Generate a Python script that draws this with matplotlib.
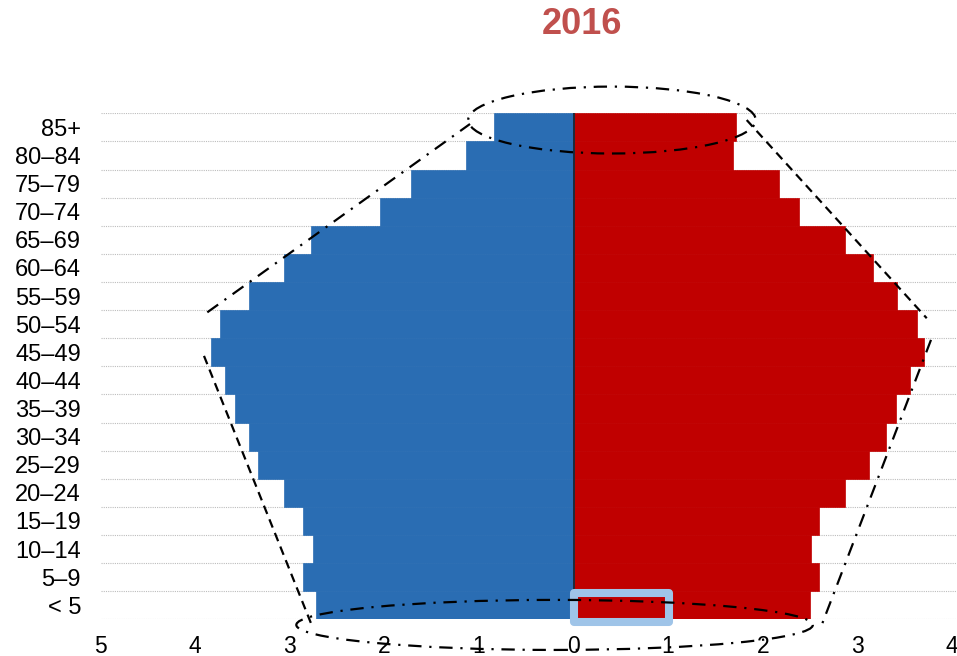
import matplotlib
matplotlib.use("Agg")
import matplotlib.pyplot as plt
from matplotlib.patches import Ellipse, Rectangle

plt.rcParams['font.family'] = ['Liberation Sans', 'DejaVu Sans']

# ---- data ----
age_groups = ["< 5", "5–9", "10–14", "15–19", "20–24", "25–29", "30–34", "35–39",
              "40–44", "45–49", "50–54", "55–59", "60–64", "65–69", "70–74",
              "75–79", "80–84", "85+"]
male = [2.72, 2.86, 2.75, 2.86, 3.06, 3.34, 3.43, 3.58, 3.68, 3.83, 3.74, 3.43,
        3.06, 2.78, 2.05, 1.72, 1.14, 0.84]
female = [2.50, 2.59, 2.51, 2.59, 2.87, 3.12, 3.30, 3.41, 3.56, 3.71, 3.63, 3.42,
          3.17, 2.87, 2.38, 2.17, 1.69, 1.72]
x_ticks = [-5, -4, -3, -2, -1, 0, 1, 2, 3, 4, 5]
x_tick_labels = ["5", "4", "3", "2", "1", "0", "1", "2", "3", "4", "5"]
title = "2016"

BLUE = "#2a6db3"
RED = "#c00000"

fig = plt.figure(figsize=(9.57, 6.56), dpi=100)
ax = fig.add_axes([100.5 / 957, 36.7 / 656, 946 / 957, 506 / 656])

ypos = list(range(len(age_groups)))
ax.barh(ypos, [-m for m in male], height=1.0, color=BLUE, edgecolor=BLUE, lw=0.5, zorder=2)
ax.barh(ypos, female, height=1.0, color=RED, edgecolor=RED, lw=0.5, zorder=2)

ax.set_xlim(-5, 5)
ax.set_ylim(-0.5, len(age_groups) - 0.5)

# gridlines at row boundaries
for b in [i - 0.5 for i in range(len(age_groups) + 1)]:
    ax.axhline(b, color="#bdbdbd", lw=0.8, ls=(0, (1, 1)), zorder=1)

# centre line
ax.plot([0, 0], [-0.5, len(age_groups) - 0.5], color="#1e2b3a", lw=1.4, zorder=3)

ax.set_yticks(ypos)
ax.set_yticklabels(age_groups, fontsize=17)
ax.set_xticks(x_ticks)
ax.set_xticklabels(x_tick_labels, fontsize=16.5)
ax.tick_params(axis="y", length=0, pad=14)
ax.tick_params(axis="x", length=0, pad=11)
for s in ax.spines.values():
    s.set_visible(False)

# ---- annotation shapes (data units) ----
dashdot = (0, (6, 3.5, 1, 3.5))
dashed = (0, (4, 2.6))
lw = 1.6

top_ell = Ellipse((0.407, 17.26), 3.04, 2.38, fill=False, ec="black", lw=lw,
                  ls=dashdot, zorder=5, clip_on=False)
bot_ell = Ellipse((-0.20, -0.70), 5.46, 1.78, fill=False, ec="black", lw=lw,
                  ls=dashdot, zorder=5, clip_on=False)
ax.add_patch(top_ell)
ax.add_patch(bot_ell)

ax.plot([-3.871, -1.094], [10.42, 17.12], color="black", lw=lw, ls=dashdot, zorder=5, clip_on=False)
ax.plot([-3.906, -2.768], [8.87, -0.70], color="black", lw=lw, ls=dashed, zorder=5, clip_on=False)
ax.plot([1.831, 3.734], [17.26, 10.21], color="black", lw=lw, ls=dashed, zorder=5, clip_on=False)
ax.plot([3.779, 2.624], [9.44, -0.70], color="black", lw=lw, ls=dashdot, zorder=5, clip_on=False)

# selection highlight box
sel = Rectangle((0.005, -0.596), 1.002, 1.032, fill=False, ec="#9fc4e8", lw=5.8,
                joinstyle="round", zorder=4, clip_on=False)
ax.add_patch(sel)

fig.text(582 / 957, 1 - 25 / 656, title, ha="center", va="center",
         fontsize=26, fontweight="bold", color="#c0504d")

fig.savefig("out.png", dpi=100)
